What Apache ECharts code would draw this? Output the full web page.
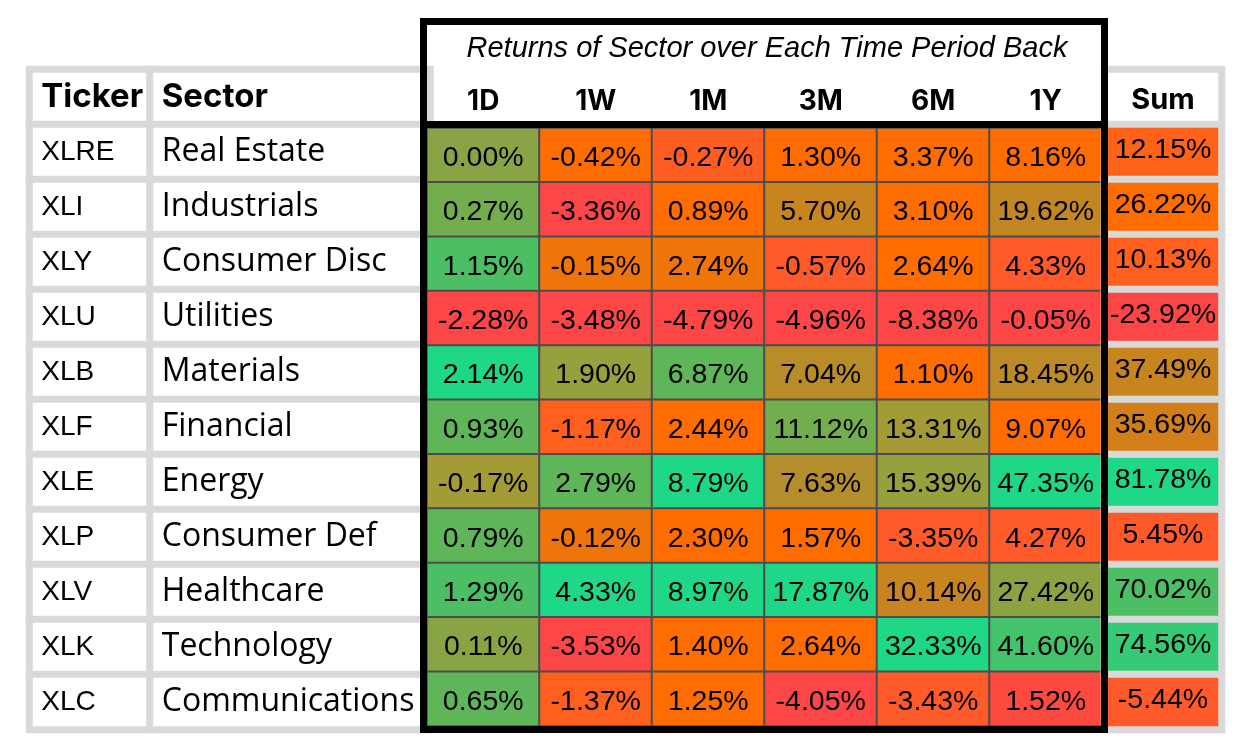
<!DOCTYPE html>
<html>
<head>
<meta charset="utf-8">
<script src="https://cdn.jsdelivr.net/npm/echarts@6/dist/echarts.min.js"></script>
<style>
  html, body { margin: 0; padding: 0; background: #fff; }
  #sector_table { width: 1242px; height: 750px; }
</style>
</head>
<body>
<div id="sector_table"></div>
<script>
// rows of the table
var tickers = ['XLRE', 'XLI', 'XLY', 'XLU', 'XLB', 'XLF', 'XLE', 'XLP', 'XLV', 'XLK', 'XLC'];
var sectors = ['Real Estate', 'Industrials', 'Consumer Disc', 'Utilities', 'Materials', 'Financial',
  'Energy', 'Consumer Def', 'Healthcare', 'Technology', 'Communications'];
var periods = ['1D', '1W', '1M', '3M', '6M', '1Y'];

// returns in %, one array per period
var r1D = [0.00, 0.27, 1.15, -2.28, 2.14, 0.93, -0.17, 0.79, 1.29, 0.11, 0.65];
var r1W = [-0.42, -3.36, -0.15, -3.48, 1.90, -1.17, 2.79, -0.12, 4.33, -3.53, -1.37];
var r1M = [-0.27, 0.89, 2.74, -4.79, 6.87, 2.44, 8.79, 2.30, 8.97, 1.40, 1.25];
var r3M = [1.30, 5.70, -0.57, -4.96, 7.04, 11.12, 7.63, 1.57, 17.87, 2.64, -4.05];
var r6M = [3.37, 3.10, 2.64, -8.38, 1.10, 13.31, 15.39, -3.35, 10.14, 32.33, -3.43];
var r1Y = [8.16, 19.62, 4.33, -0.05, 18.45, 9.07, 47.35, 4.27, 27.42, 41.60, 1.52];
var sums = [12.15, 26.22, 10.13, -23.92, 37.49, 35.69, 81.78, 5.45, 70.02, 74.56, -5.44];

// heat score behind each cell colour (0 = weakest .. 9 = strongest)
var heat1D = [6, 7, 8, 0, 9, 7.5, 5, 7.5, 8, 6, 7.5];
var heat1W = [2, 0, 2.3, 0, 5.5, 1.3, 7.5, 2.3, 9, 0, 1.3];
var heat1M = [1.2, 2, 2.3, 0, 7.5, 2, 9, 2, 9, 2, 2];
var heat3M = [2, 3, 1, 0, 3.8, 7, 4, 2, 9, 2, 0];
var heat6M = [2, 2, 2, 0, 2, 5, 5.5, 1, 3, 9, 1];
var heat1Y = [2, 3.3, 1, 0, 3.6, 2, 9, 1, 5.8, 8.2, 0.2];
var heatSum = [1.4, 2, 1.3, 0, 3, 2.8, 9, 1, 8, 8.5, 1];

var columns = [r1D, r1W, r1M, r3M, r6M, r1Y];
var heats = [heat1D, heat1W, heat1M, heat3M, heat6M, heat1Y];

var cells = [];
columns.forEach(function (col, c) {
  col.forEach(function (v, r) { cells.push([c, r, heats[c][r], v]); });
});
var sumCells = sums.map(function (v, i) { return [0, i + 1, heatSum[i], v]; });

var rowsWithHead = [''].concat(tickers);
var gray = '#d9d9d9';
var headFont = { fontFamily: 'Inter', fontWeight: 'bold', fontSize: 33, color: '#000' };

var chartDom = document.getElementById('sector_table');
var myChart = echarts.init(chartDom);
var option;

function hiddenCat(data, grid) {
  return { type: 'category', gridIndex: grid, data: data, show: false };
}

option = {
  animation: false,
  grid: [
    { left: 29.5, top: 69.5, width: 120.5, height: 660 },
    { left: 150, top: 69.5, width: 280, height: 660 },
    { left: 427, top: 128, width: 675, height: 598 },
    { left: 1104.5, top: 69.5, width: 117, height: 660 }
  ],
  xAxis: [
    hiddenCat(['Ticker'], 0),
    hiddenCat(['Sector'], 1),
    {
      type: 'category', gridIndex: 2, data: periods, position: 'top',
      axisLine: { show: false }, axisTick: { show: false }, splitLine: { show: false },
      axisLabel: { fontFamily: 'Inter', fontWeight: 'bold', fontSize: 28, color: '#000', margin: 12 }
    },
    hiddenCat(['Sum'], 3)
  ],
  yAxis: [
    Object.assign(hiddenCat(rowsWithHead, 0), { inverse: true }),
    Object.assign(hiddenCat(rowsWithHead, 1), { inverse: true }),
    Object.assign(hiddenCat(tickers, 2), { inverse: true }),
    Object.assign(hiddenCat(rowsWithHead, 3), { inverse: true })
  ],
  visualMap: {
    type: 'continuous', show: false, dimension: 2, min: 0, max: 9,
    seriesIndex: [2, 4],
    inRange: {
      color: ['#fd4646', '#ff5a2a', '#ff6d00', '#c8841f', '#b48e2c',
        '#a39b36', '#88a444', '#72ae4e', '#4cbe64', '#1ed888']
    }
  },
  series: [
    {
      type: 'heatmap', xAxisIndex: 0, yAxisIndex: 0, silent: true,
      data: [{ value: [0, 0, 0], label: headFont }].concat(tickers.map(function (t, i) { return [0, i + 1, 0]; })),
      itemStyle: { color: '#fff', borderColor: gray, borderWidth: 7 },
      label: {
        show: true, position: 'insideLeft', distance: 15.5, offset: [0, 0],
        fontFamily: 'Liberation Sans', fontSize: 28, color: '#000',
        formatter: function (p) { return p.dataIndex === 0 ? 'Ticker' : tickers[p.dataIndex - 1]; }
      }
    },
    {
      type: 'heatmap', xAxisIndex: 1, yAxisIndex: 1, silent: true,
      data: [{ value: [0, 0, 0], label: headFont }].concat(sectors.map(function (s, i) { return [0, i + 1, 0]; })),
      itemStyle: { color: '#fff', borderColor: gray, borderWidth: 7 },
      label: {
        show: true, position: 'insideLeft', distance: 15.5, offset: [0, 0],
        fontFamily: 'Open Sans', fontSize: 32, color: '#000',
        formatter: function (p) { return p.dataIndex === 0 ? 'Sector' : sectors[p.dataIndex - 1]; }
      }
    },
    {
      type: 'heatmap', xAxisIndex: 2, yAxisIndex: 2, silent: true,
      data: cells,
      itemStyle: { borderColor: '#4d4d4d', borderWidth: 2 },
      label: {
        show: true, offset: [0, 3],
        fontFamily: 'Liberation Sans', fontSize: 28.5, color: '#000',
        formatter: function (p) { return p.data[3].toFixed(2) + '%'; }
      }
    },
    {
      type: 'heatmap', xAxisIndex: 3, yAxisIndex: 3, silent: true,
      data: [[0, 0, 0]],
      itemStyle: { color: '#fff', borderColor: gray, borderWidth: 7 },
      label: {
        show: true, offset: [0, 3],
        fontFamily: 'Inter', fontWeight: 'bold', fontSize: 29, color: '#000',
        formatter: 'Sum'
      }
    },
    {
      type: 'heatmap', xAxisIndex: 3, yAxisIndex: 3, silent: true,
      data: sumCells,
      itemStyle: { borderColor: gray, borderWidth: 7 },
      label: {
        show: true, offset: [0, -2],
        fontFamily: 'Liberation Sans', fontSize: 28.5, color: '#000',
        formatter: function (p) { return p.data[3].toFixed(2) + '%'; }
      }
    }
  ],
  graphic: [
    {
      type: 'rect', z: 100, silent: true,
      shape: { x: 423.5, y: 21.5, width: 681, height: 708 },
      style: { fill: null, stroke: '#000', lineWidth: 7 }
    },
    {
      type: 'line', z: 100, silent: true,
      shape: { x1: 420, y1: 124.5, x2: 1108, y2: 124.5 },
      style: { stroke: '#000', lineWidth: 7 }
    },
    {
      type: 'text', z: 100, silent: true,
      style: {
        x: 767, y: 49, text: 'Returns of Sector over Each Time Period Back',
        fontFamily: 'Liberation Sans', fontStyle: 'italic', fontSize: 29,
        fill: '#000', align: 'center', verticalAlign: 'middle'
      }
    }
  ]
};

option && myChart.setOption(option);
</script>
</body>
</html>
